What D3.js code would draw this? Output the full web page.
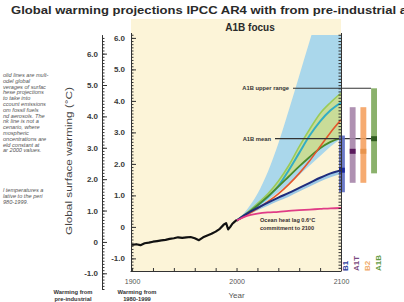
<!DOCTYPE html>
<html><head><meta charset="utf-8">
<script src="https://cdn.jsdelivr.net/npm/d3@7"></script>
<style>body{margin:0;background:#fff;} svg{display:block;font-family:"Liberation Sans",Arial,sans-serif;}</style>
</head><body><svg id="c" width="404" height="302"></svg>
<script>
// ---- data ----
const obsYears  = [1900,1904,1908,1912,1916,1920,1924,1928,1932,1936,1940,1944,1948,1952,1956,1960,1964,1968,1972,1976,1980,1984,1988,1990,1992,1994,1996,1998,2000];
const obsValues = [-0.57,-0.55,-0.58,-0.52,-0.50,-0.47,-0.45,-0.43,-0.41,-0.38,-0.36,-0.33,-0.35,-0.33,-0.32,-0.36,-0.42,-0.33,-0.27,-0.22,-0.15,-0.06,0.08,0.12,-0.08,0.0,0.10,0.16,0.22];
const projYears = [2000,2010,2020,2030,2040,2050,2060,2070,2080,2090,2100];
const fanUpper  = [0.2,0.55,1.05,1.75,2.65,3.7,4.8,5.9,7.0,8.1,9.2];
const fanLower  = [0.2,0.4,0.62,0.85,1.1,1.38,1.65,1.95,2.25,2.55,2.8];
const upperGreen = [0.2,0.45,0.74,1.05,1.45,1.95,2.55,3.1,3.6,3.95,4.25];
const tealLine   = [0.2,0.42,0.68,0.95,1.3,1.8,2.35,2.9,3.35,3.7,3.95];
const a2Line     = [0.2,0.38,0.58,0.8,1.05,1.35,1.7,2.1,2.55,3.0,3.4];
const a1bLine    = [0.2,0.42,0.68,0.97,1.28,1.6,1.92,2.22,2.5,2.7,2.83];
const b1Line     = [0.2,0.42,0.6,0.77,0.93,1.08,1.24,1.4,1.56,1.7,1.8];
const b1Shade    = [0.2,0.37,0.52,0.67,0.82,0.96,1.12,1.28,1.44,1.58,1.68];
const commitLine = [0.2,0.35,0.42,0.46,0.48,0.51,0.53,0.55,0.57,0.59,0.6];
const scenarios    = ["B1","A1T","B2","A1B"];
const scenarioLow  = [1.1,1.4,1.4,1.7];
const scenarioHigh = [2.9,3.8,3.8,4.4];
const scenarioBest = [1.8,2.4,2.4,2.8];
const a1bUpperValue = 4.4, a1bMeanValue = 2.8;
const innerTicks = [-1,0,1,2,3,4,5,6];
const outerTicks = [-1,0,1,2,3,4,5,6];
const yearLabels = [1900,2000,2100];
const yearMinor  = [1900,1920,1940,1960,1980,2000,2020,2040,2060,2080,2100];
const noteTop = ["olid lines are mult-","odel global","verages of surfac","hese projections","to take into","ccount emissions","om fossil fuels","nd aerosols. The","nk line is not a","cenario, where","mospheric","oncentrations are","eld constant at","ar 2000 values."];
const noteBottom = ["l temperatures a","lative to the peri","980-1999."];

// ---- layout ----
const svg = d3.select("#c");
const x = d3.scaleLinear().domain([1898,2100]).range([130,341]);
const yIn = d3.scaleLinear().domain([-1.4,6.6]).range([271,19]);
const yOut = d3.scaleLinear().domain([-1.5,6.6]).range([289,34.8]);
const fmt = v => v===0 ? "0" : v.toFixed(1);
const txtCol = "#3a3a3a";
const plotTop = 35;

// title
svg.append("text").attr("x",11).attr("y",14).attr("font-size",10.5).attr("font-weight","bold")
  .attr("fill","#2a2a2a").attr("textLength",396).attr("lengthAdjust","spacingAndGlyphs")
  .text("Global warming projections IPCC AR4 with  from pre-industrial a");

// plot background
svg.append("rect").attr("x",131).attr("y",19).attr("width",210).attr("height",252).attr("fill","#fcf4d8");
svg.append("text").attr("x",250).attr("y",31).attr("text-anchor","middle").attr("font-size",10)
  .attr("font-weight","bold").attr("fill","#2a2a2a").text("A1B focus");

svg.append("clipPath").attr("id","clip").append("rect").attr("x",131).attr("y",plotTop).attr("width",210).attr("height",271-plotTop);
const plot = svg.append("g").attr("clip-path","url(#clip)");

const proj = arr => projYears.map((yr,i)=>({yr, v:arr[i]}));
const area = (lo,hi) => d3.area().x((d,i)=>x(projYears[i])).y0((d,i)=>yIn(lo[i])).y1((d,i)=>yIn(hi[i])).curve(d3.curveMonotoneX);
plot.append("path").datum(projYears).attr("d",area(fanLower,fanUpper)).attr("fill","#aad7eb");
plot.append("path").datum(projYears).attr("d",area(a1bLine,upperGreen)).attr("fill","#c9dc98");
plot.append("path").datum(projYears).attr("d",area(b1Shade,b1Line)).attr("fill","#9cc8e4");

const line = d3.line().x(d=>x(d.yr)).y(d=>yIn(d.v)).curve(d3.curveMonotoneX);
const series = [
  [upperGreen,"#9acb58",1.6],
  [tealLine,"#33adc4",2],
  [a1bLine,"#4b8a2a",1.8],
  [a2Line,"#e4562c",1.6],
  [b1Line,"#1e2c7c",2],
  [commitLine,"#e03c86",1.8]
];
series.forEach(([arr,col,w])=>{
  plot.append("path").datum(proj(arr)).attr("d",line).attr("fill","none").attr("stroke",col).attr("stroke-width",w);
});
// observed
plot.append("path").datum(obsYears.map((yr,i)=>({yr,v:obsValues[i]}))).attr("d",d3.line().x(d=>x(d.yr)).y(d=>yIn(d.v)))
  .attr("fill","none").attr("stroke","#111").attr("stroke-width",2.2).attr("stroke-linejoin","round");

// scenario bars
const band = d3.scaleBand().domain(scenarios).range([339,377]).paddingInner(0.45).paddingOuter(0);
const barCols = ["#5b6bc2","#a685aa","#f5a262","#7ea85c"];
const dotCols = ["#1b2a9e","#5a1a5c","#e8944e","#2f5a1f"];
const labCols = ["#2d3c9c","#7a4a80","#f0aa68","#5f9a44"];
const bw = band.bandwidth();

// annotation lines
svg.append("line").attr("x1",293).attr("x2",band("A1B")).attr("y1",yIn(a1bUpperValue)).attr("y2",yIn(a1bUpperValue)).attr("stroke","#333").attr("stroke-width",1.1);
svg.append("line").attr("x1",275).attr("x2",band("A1B")+bw).attr("y1",yIn(a1bMeanValue)).attr("y2",yIn(a1bMeanValue)).attr("stroke","#333").attr("stroke-width",1.3);
svg.append("text").attr("x",289).attr("y",yIn(a1bUpperValue)+2).attr("text-anchor","end").attr("font-size",5.8).attr("font-weight","bold").attr("fill","#333").text("A1B upper range");
svg.append("text").attr("x",271).attr("y",yIn(a1bMeanValue)+2).attr("text-anchor","end").attr("font-size",5.8).attr("font-weight","bold").attr("fill","#333").text("A1B mean");
svg.append("text").attr("x",260).attr("y",222).attr("font-size",5.6).attr("font-weight","bold").attr("fill","#3a3030").text("Ocean heat lag 0.6°C");
svg.append("text").attr("x",260).attr("y",230).attr("font-size",5.6).attr("font-weight","bold").attr("fill","#3a3030").text("commitment to 2100");

scenarios.forEach((s,i)=>{
  svg.append("rect").attr("x",band(s)).attr("width",bw).attr("y",yIn(scenarioHigh[i]))
    .attr("height",yIn(scenarioLow[i])-yIn(scenarioHigh[i])).attr("fill",barCols[i]).attr("opacity",0.9);
  svg.append("rect").attr("x",band(s)).attr("width",bw).attr("y",yIn(scenarioBest[i])-2.5).attr("height",5).attr("fill",dotCols[i]);
  svg.append("text").attr("transform",`translate(${band(s)+bw/2+6.5},271) rotate(-90)`).attr("font-size",8).attr("font-weight","bold")
    .attr("fill",labCols[i]).text(s);
});

// axes
function styleAxis(g){ g.selectAll("line,path").attr("stroke","#333"); g.selectAll("text").attr("fill",txtCol).attr("font-size",8).attr("font-weight","bold").attr("font-family","Liberation Sans, Arial, sans-serif"); }
const minorIn = d3.range(-14,62).map(k=>k/10);
const minorOut = d3.range(-15,66).map(k=>k/10);
function vline(xp,y1,y2){ svg.append("line").attr("x1",xp).attr("x2",xp).attr("y1",y1).attr("y2",y2).attr("stroke","#333"); }
// inner left axis
svg.append("g").attr("transform","translate(131,0)").call(d3.axisLeft(yIn).tickValues(minorIn).tickSizeInner(-2.5).tickSizeOuter(0).tickFormat("")).call(styleAxis).call(g=>g.select(".domain").remove());
svg.append("g").attr("transform","translate(131,0)").call(d3.axisLeft(yIn).tickValues(innerTicks).tickSizeInner(-5).tickSizeOuter(0).tickPadding(6).tickFormat(fmt)).call(styleAxis).call(g=>g.select(".domain").remove());
vline(131.5, plotTop-2, 271);
// outer axis
svg.append("g").attr("transform","translate(102,0)").call(d3.axisLeft(yOut).tickValues(minorOut).tickSizeInner(-2.5).tickSizeOuter(0).tickFormat("")).call(styleAxis);
svg.append("g").attr("transform","translate(102,0)").call(d3.axisLeft(yOut).tickValues(outerTicks).tickSizeInner(-5).tickSizeOuter(0).tickPadding(4).tickFormat(fmt)).call(styleAxis);
// right axis
svg.append("g").attr("transform","translate(341,0)").call(d3.axisRight(yIn).tickValues(minorIn).tickSizeInner(-2.5).tickSizeOuter(0).tickFormat("")).call(styleAxis).call(g=>g.select(".domain").remove());
vline(341.5, plotTop-2, 271);
// bottom axis
svg.append("g").attr("transform","translate(0,271)").call(d3.axisBottom(x).tickValues(yearMinor).tickSizeInner(-3).tickSizeOuter(0).tickFormat("")).call(styleAxis);
svg.append("g").attr("transform","translate(0,271)").call(d3.axisBottom(x).tickValues(yearLabels).tickSizeInner(0).tickSizeOuter(0).tickPadding(8).tickFormat(d3.format("d")))
  .call(styleAxis).call(g=>{g.select(".domain").remove(); g.selectAll("text").attr("font-size",7).attr("font-weight","normal").attr("fill","#555");});

svg.append("text").attr("x",x(2000)).attr("y",298).attr("text-anchor","middle").attr("font-size",8).attr("fill","#555").text("Year");
svg.append("text").attr("transform","translate(72,161) rotate(-90)").attr("text-anchor","middle").attr("font-size",9.5)
  .attr("fill","#444").attr("textLength",148).attr("lengthAdjust","spacingAndGlyphs").text("Global surface warming (°C)");

// bottom-left labels
[["Warming from","pre-industrial",73],["Warming from","1980-1999",137]].forEach(([a,b,cx])=>{
  svg.append("text").attr("x",cx).attr("y",294).attr("text-anchor","middle").attr("font-size",5.8).attr("font-weight","bold").attr("fill","#333").text(a);
  svg.append("text").attr("x",cx).attr("y",301).attr("text-anchor","middle").attr("font-size",5.8).attr("font-weight","bold").attr("fill","#333").text(b);
});

// left notes
noteTop.forEach((t,i)=>svg.append("text").attr("x",3).attr("y",77+i*5.8).attr("font-size",5.6).attr("font-style","italic").attr("fill","#555").text(t));
noteBottom.forEach((t,i)=>svg.append("text").attr("x",3).attr("y",192+i*5.8).attr("font-size",5.6).attr("font-style","italic").attr("fill","#555").text(t));
</script></body></html>
